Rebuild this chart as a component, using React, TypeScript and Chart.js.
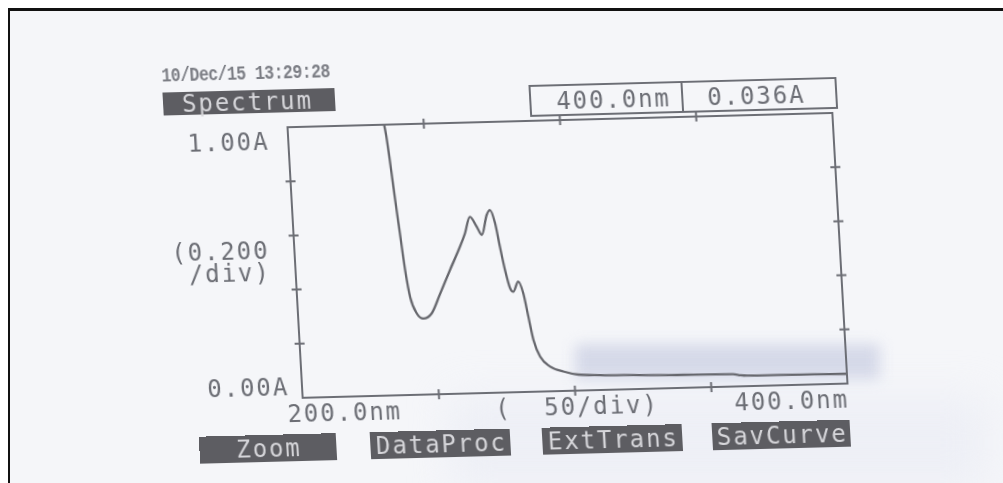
import React, { useEffect, useRef } from "react";
import { Chart, registerables } from "chart.js";

Chart.register(...registerables);

// ---- data ----
const wavelengthNm = [
  235.0, 236.0, 236.8, 237.9, 239.0, 240.2, 241.5, 243.6, 245.9, 249.1, 252.5,
  256.6, 260.8, 262.9, 265.0, 267.3, 269.0, 271.2, 272.5, 274.1, 275.4, 276.8,
  278.3, 279.4, 281.4, 283.0, 284.4, 285.8, 287.9, 291.3, 296.1, 301.5, 309.5,
  321.6, 340.0, 358.2, 361.0, 363.3, 375.0, 387.5, 400.0,
];
const absorbanceA = [
  1.03, 0.96, 0.87, 0.73, 0.6, 0.46, 0.36, 0.3, 0.281, 0.3, 0.37, 0.457, 0.543,
  0.592, 0.652, 0.615, 0.584, 0.657, 0.675, 0.626, 0.539, 0.452, 0.384, 0.371,
  0.408, 0.365, 0.278, 0.191, 0.129, 0.092, 0.072, 0.059, 0.055, 0.052, 0.048,
  0.046, 0.041, 0.039, 0.038, 0.037, 0.036,
];

const xTickValues = [200, 250, 300, 350, 400];
const xStartLabel = "200.0nm";
const xDivLabel = "(  50/div)";
const xEndLabel = "400.0nm";
const yTickValues = [0, 0.2, 0.4, 0.6, 0.8, 1];
const yTopLabel = "1.00A";
const yBottomLabel = "0.00A";
const yDivLabel = ["(0.200", "/div)"];

const headerDate = "10/Dec/15 13:29:28";
const modeLabel = "Spectrum";
const cursorWavelength = "400.0nm";
const cursorAbsorbance = "0.036A";
const softKeys = ["Zoom", "DataProc", "ExtTrans", "SavCurve"];

// ---- styling ----
const INK = "#6c6e75";
const CURVE = "#66676d";
const KEY_BG = "#5d5d62";
const KEY_TEXT = "#d6d6da";
const LCD_FONT = "'DejaVu Sans Mono', monospace";
const LCD_SIZE = 24;
const LCD_SPACING = 1.9;

const framePlugin = {
  id: "lcdFrame",
  afterDatasetsDraw(chart: any) {
    const { ctx, chartArea } = chart;
    const xs = chart.scales.x;
    const ys = chart.scales.y;
    const { left, right, top, bottom } = chartArea;
    ctx.save();
    ctx.strokeStyle = INK;
    ctx.lineWidth = 2;
    ctx.strokeRect(left, top, right - left, bottom - top);
    const t = 5;
    ctx.beginPath();
    xTickValues.forEach((v) => {
      if (v === 200 || v === 400) return;
      const px = xs.getPixelForValue(v);
      ctx.moveTo(px, top - t);
      ctx.lineTo(px, top + t);
      ctx.moveTo(px, bottom - t);
      ctx.lineTo(px, bottom + t);
    });
    yTickValues.forEach((v) => {
      if (v === 0 || v === 1) return;
      const py = ys.getPixelForValue(v);
      ctx.moveTo(left - t, py);
      ctx.lineTo(left + t, py);
      ctx.moveTo(right - t, py);
      ctx.lineTo(right + t, py);
    });
    ctx.stroke();

    ctx.letterSpacing = `${LCD_SPACING}px`;
    ctx.fillStyle = INK;
    ctx.font = `${LCD_SIZE}px ${LCD_FONT}`;
    ctx.textBaseline = "middle";

    // y-axis labels
    ctx.textAlign = "right";
    ctx.fillText(yTopLabel, left - 19, ys.getPixelForValue(1) + 16);
    ctx.fillText(yBottomLabel, left - 13, ys.getPixelForValue(0) - 9);
    const mid = ys.getPixelForValue(0.5);
    ctx.fillText(yDivLabel[0], left - 25, mid - 10.5);
    ctx.fillText(yDivLabel[1], left - 25, mid + 11.5);

    // x-axis labels
    const ly = ys.getPixelForValue(0) + 18;
    ctx.textAlign = "left";
    ctx.fillText(xStartLabel, xs.getPixelForValue(200) - 16, ly);
    ctx.textAlign = "center";
    ctx.fillText(xDivLabel, xs.getPixelForValue(300) + 1, ly);
    ctx.textAlign = "right";
    ctx.fillText(xEndLabel, xs.getPixelForValue(400) + 0.5, ly);
    ctx.letterSpacing = "0px";
    ctx.restore();
  },
};

function SpectrumChart() {
  const ref = useRef<HTMLCanvasElement | null>(null);
  useEffect(() => {
    if (!ref.current) return;
    const chart = new Chart(ref.current, {
      type: "line",
      data: {
        datasets: [
          {
            data: wavelengthNm.map((x, i) => ({ x, y: absorbanceA[i] })),
            borderColor: CURVE,
            borderWidth: 2.3,
            pointRadius: 0,
            cubicInterpolationMode: "monotone",
            fill: false,
          },
        ],
      },
      options: {
        animation: false,
        responsive: false,
        events: [],
        layout: { padding: { left: 295, right: 163, top: 120, bottom: 92 } },
        plugins: { legend: { display: false }, tooltip: { enabled: false } },
        scales: {
          x: {
            type: "linear",
            min: 200,
            max: 400,
            afterBuildTicks: (s: any) => {
              s.ticks = xTickValues.map((v) => ({ value: v }));
            },
            afterFit: (s: any) => {
              s.height = 0;
            },
            grid: { display: false },
            border: { display: false },
            ticks: { display: false },
          },
          y: {
            type: "linear",
            min: 0,
            max: 1,
            afterFit: (s: any) => {
              s.width = 0;
            },
            grid: { display: false },
            border: { display: false },
            ticks: { display: false, stepSize: 0.2 },
          },
        },
      },
      plugins: [framePlugin],
    } as any);
    return () => chart.destroy();
  }, []);
  return (
    <canvas
      ref={ref}
      width={1003}
      height={483}
      style={{ position: "absolute", left: 0, top: 0, width: 1003, height: 483 }}
    />
  );
}

const lcdText: React.CSSProperties = {
  fontFamily: LCD_FONT,
  fontSize: LCD_SIZE,
  letterSpacing: LCD_SPACING,
  lineHeight: "1",
  whiteSpace: "pre",
};

export default function App() {
  const keyLefts = [189, 360, 532, 702];
  const keyWidths = [137, 140, 140, 138];
  return (
    <div
      style={{
        position: "fixed",
        left: 0,
        top: 0,
        width: 1003,
        height: 483,
        background: "#ffffff",
        overflow: "hidden",
      }}
    >
      {/* paper */}
      <div
        style={{
          position: "absolute",
          left: 9,
          top: 10,
          width: 994,
          height: 473,
          background: "#f5f6f9",
          overflow: "hidden",
        }}
      >
        <div
          style={{
            position: "absolute",
            left: 566,
            top: 334,
            width: 305,
            height: 36,
            background: "#d2d6e7",
            filter: "blur(7px)",
            opacity: 0.9,
          }}
        />
        <div
          style={{
            position: "absolute",
            left: 440,
            top: 385,
            width: 540,
            height: 95,
            background: "#e9ebf4",
            filter: "blur(20px)",
            opacity: 0.6,
          }}
        />
      </div>
      {/* document frame */}
      <div style={{ position: "absolute", left: 8, top: 8, width: 995, height: 3, background: "#111" }} />
      <div style={{ position: "absolute", left: 8, top: 8, width: 2, height: 475, background: "#111" }} />

      {/* photographed instrument screen */}
      <div
        style={{
          position: "absolute",
          left: 0,
          top: 0,
          width: 1003,
          height: 483,
          transform: "rotate(-1.5deg) skewX(1.7deg)",
          transformOrigin: "567.5px 255.5px",
        }}
      >
        <SpectrumChart />
        <div
          style={{
            position: "absolute",
            left: 172,
            top: 56,
            fontFamily: "'Liberation Mono', monospace",
            fontWeight: 700,
            fontSize: 16.5,
            letterSpacing: -0.55,
            lineHeight: "1",
            color: "#7c7e85",
            whiteSpace: "pre",
            transform: "scaleY(1.22)",
            transformOrigin: "0 0",
          }}
        >
          {headerDate}
        </div>
        <div
          style={{
            position: "absolute",
            left: 172,
            top: 82,
            width: 172,
            height: 23,
            background: KEY_BG,
            display: "flex",
            alignItems: "center",
            paddingLeft: 19,
            boxSizing: "border-box",
          }}
        >
          <span style={{ ...lcdText, color: KEY_TEXT }}>{modeLabel}</span>
        </div>
        <div
          style={{
            position: "absolute",
            left: 538,
            top: 84,
            width: 308,
            height: 32,
            border: `2px solid ${INK}`,
            boxSizing: "border-box",
          }}
        >
          <div
            style={{ position: "absolute", left: 150, top: 0, width: 2, height: 28, background: INK }}
          />
          <span style={{ ...lcdText, color: INK, position: "absolute", left: 25, top: 3 }}>
            {cursorWavelength}
          </span>
          <span style={{ ...lcdText, color: INK, position: "absolute", left: 176, top: 3 }}>
            {cursorAbsorbance}
          </span>
        </div>
        {softKeys.map((k, i) => (
          <div
            key={k}
            style={{
              position: "absolute",
              left: keyLefts[i],
              top: 427,
              width: keyWidths[i],
              height: 27,
              background: KEY_BG,
              display: "flex",
              alignItems: "center",
              justifyContent: "center",
            }}
          >
            <span style={{ ...lcdText, color: KEY_TEXT, paddingLeft: 2 }}>{k}</span>
          </div>
        ))}
      </div>
    </div>
  );
}
